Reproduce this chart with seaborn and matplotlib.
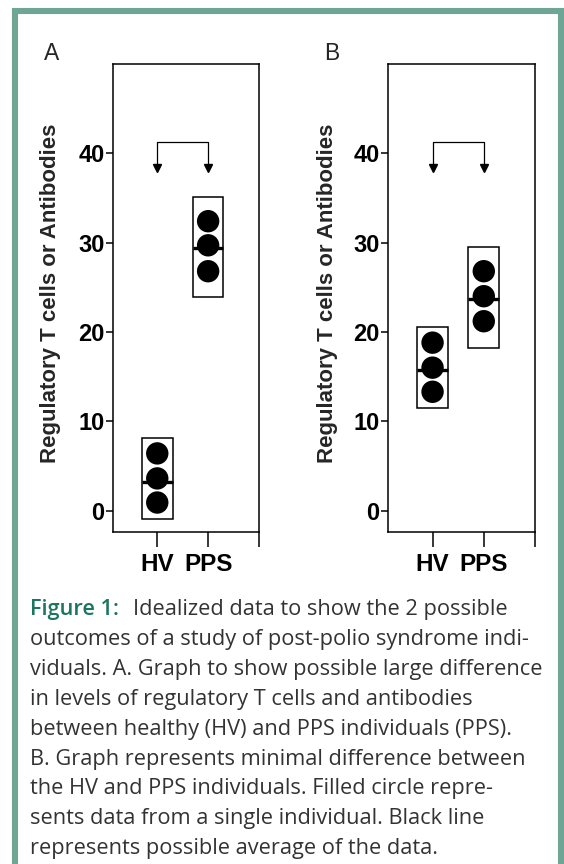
import matplotlib as mpl
import matplotlib.pyplot as plt
from matplotlib.patches import Rectangle
import pandas as pd
import seaborn as sns

# values
groups = ["HV", "PPS"]
panel_a_hv = [6.4, 3.6, 0.9]
panel_a_pps = [32.4, 29.7, 26.8]
panel_b_hv = [18.8, 16.0, 13.3]
panel_b_pps = [26.8, 24.0, 21.2]
panel_a_mean = [3.25, 29.4]
panel_b_mean = [15.7, 23.7]
panel_a_box = [(-0.9, 8.1), (23.9, 35.1)]
panel_b_box = [(11.5, 20.5), (18.2, 29.5)]
y_ticks = [0, 10, 20, 30, 40]
y_label = "Regulatory T cells or Antibodies"

caption_head = "Figure 1:"
caption_lines = [
    "Idealized data to show the 2 possible",
    "outcomes of a study of post-polio syndrome indi-",
    "viduals. A. Graph to show possible large difference",
    "in levels of regulatory T cells and antibodies",
    "between healthy (HV) and PPS individuals (PPS).",
    "B. Graph represents minimal difference between",
    "the HV and PPS individuals. Filled circle repre-",
    "sents data from a single individual. Black line",
    "represents possible average of the data.",
]

sns.set_style("ticks")
plt.rcParams["font.family"] = ["Liberation Sans", "DejaVu Sans"]

W, H = 564, 864
fig = plt.figure(figsize=(W / 100, H / 100), dpi=100)
fig.patch.set_facecolor("white")

# green frame round the box (open at the bottom edge)
fig.add_artist(Rectangle((15 / W, -0.05), (560.5 - 15) / W, 1.05 - 11 / H,
                         transform=fig.transFigure, fill=False,
                         edgecolor="#6fa594", linewidth=4.4, joinstyle="miter"))

xpos = {g: i + 1 for i, g in enumerate(groups)}


def draw_panel(left_px, width_px, hv, pps, means, boxes, letter, letter_x, ylab_x):
    ax = fig.add_axes([left_px / W, 1 - 532 / H, width_px / W, (532 - 64) / H])
    df = pd.DataFrame({
        "group": ["HV"] * len(hv) + ["PPS"] * len(pps),
        "value": hv + pps,
    })
    df["pos"] = df["group"].map(xpos)

    sns.scatterplot(data=df, x="pos", y="value", color="black", s=260,
                    edgecolor="none", ax=ax, zorder=3, legend=False)

    for g, m, (lo, hi) in zip(groups, means, boxes):
        p = xpos[g]
        ax.add_patch(Rectangle((p - 0.3, lo), 0.6, hi - lo, fill=False,
                               edgecolor="black", linewidth=1.1, zorder=2))
        ax.hlines(m, p - 0.3, p + 0.3, color="black", linewidth=2.4, zorder=4)

    # bracket with two arrows pointing down
    ax.plot([1, 1, 2, 2], [38.6, 41.3, 41.3, 38.6], color="black", linewidth=0.9)
    ax.plot([1, 2], [38.3, 38.3], linestyle="none", marker="v", markersize=6,
            color="black")

    ax.set_xlim(0.13, 3.0)
    ax.set_ylim(-2.4, 50)
    ax.set_xticks([1, 2, 3])
    ax.set_xticklabels(["HV", "PPS", ""], fontsize=17.5, fontweight="bold")
    ax.set_yticks(y_ticks)
    ax.set_yticklabels([str(t) for t in y_ticks], fontsize=17, fontweight="bold")
    ax.tick_params(axis="x", length=11, width=1.1, pad=4, colors="black")
    ax.tick_params(axis="y", length=5, width=1.1, pad=1, colors="black")
    for s in ax.spines.values():
        s.set_visible(True)
        s.set_linewidth(1.1)
        s.set_color("black")
    ax.set_xlabel("")
    ax.set_ylabel(y_label, fontsize=16, fontweight="bold")
    ax.yaxis.set_label_coords((ylab_x - left_px) / width_px, 0.51)

    fig.text(letter_x / W, 1 - 53 / H, letter, fontsize=16.5, ha="center", va="center")
    return ax


draw_panel(113, 146, panel_a_hv, panel_a_pps, panel_a_mean, panel_a_box, "A", 52, 61)
draw_panel(388, 147, panel_b_hv, panel_b_pps, panel_b_mean, panel_b_box, "B", 332, 338)

# caption
cap_font = ["Open Sans", "DejaVu Sans"]
fig.text(30 / W, 1 - 615 / H, caption_head, fontsize=15.7, color="#1b7560",
         family=cap_font, fontweight="semibold", va="baseline", ha="left")
for i, line in enumerate(caption_lines):
    x = 133 if i == 0 else 30
    fig.text(x / W, 1 - (615 + 29.9 * i) / H, line, fontsize=15.7, color="#333333",
             family=cap_font, va="baseline", ha="left")

plt.savefig("out.png", dpi=100)
